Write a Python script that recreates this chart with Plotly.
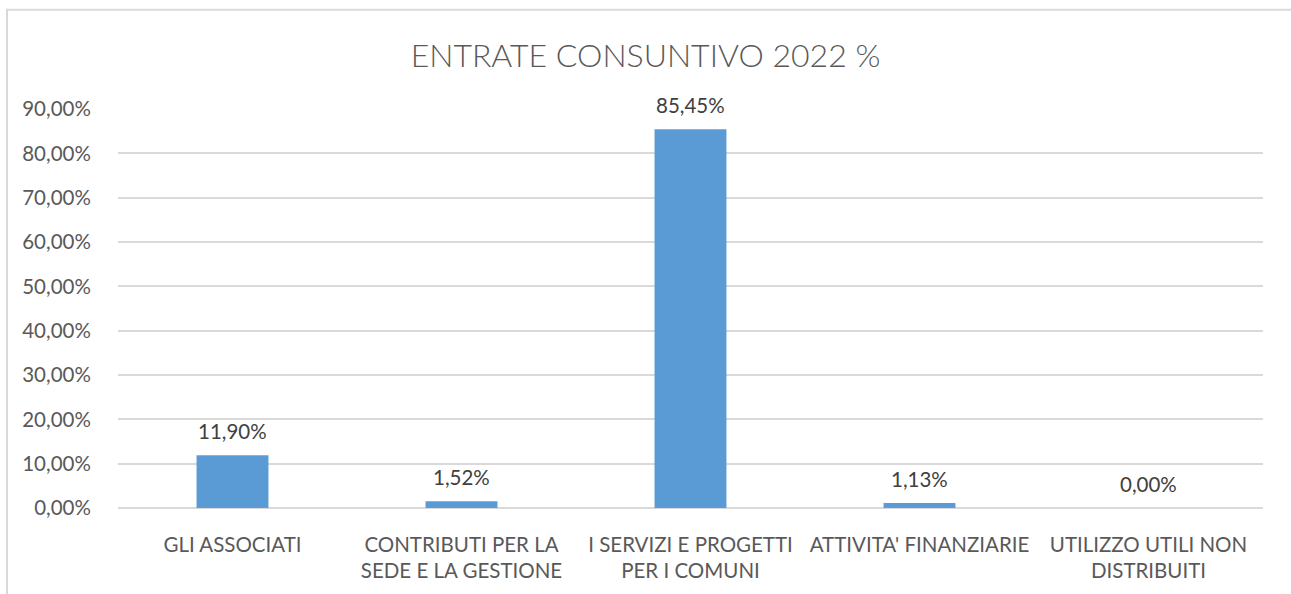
import plotly.graph_objects as go

categories = ["GLI ASSOCIATI", "CONTRIBUTI PER LA<br>SEDE E LA GESTIONE",
              "I SERVIZI E PROGETTI<br>PER I COMUNI", "ATTIVITA' FINANZIARIE",
              "UTILIZZO UTILI NON<br>DISTRIBUITI"]
values = [11.90, 1.52, 85.45, 1.13, 0.00]
title_text = "ENTRATE CONSUNTIVO 2022 %"

W, H = 1291, 594
L, R, T, B = 118, 28, 109, 83
FONT = "Lato, Open Sans, sans-serif"

fig = go.Figure(go.Bar(
    x=categories, y=values,
    marker=dict(color="#5B9BD5", line=dict(width=0)),
    hoverinfo="x+y",
))

for c, v in zip(categories, values):
    fig.add_annotation(x=c, y=v, xref="x", yref="y", text=f"{v:.2f}%".replace(".", ","),
                       showarrow=False, yanchor="bottom", yshift=10,
                       font=dict(family=FONT, size=20.5, color="#404040"))

pw, ph = W - L - R, H - T - B
fig.add_shape(type="rect", xref="paper", yref="paper",
              x0=(7 - L) / pw, x1=(W + 5 - L) / pw,
              y0=-(H + 5 - (H - B)) / ph, y1=(H - B - 9) / ph,
              line=dict(color="#D9D9D9", width=2), fillcolor="rgba(0,0,0,0)", layer="below")

fig.update_layout(
    width=W, height=H,
    margin=dict(l=L, r=R, t=T, b=B, pad=0),
    separators=",.",
    paper_bgcolor="white", plot_bgcolor="white",
    bargap=0.686,
    showlegend=False,
    title=dict(text=title_text, x=0.5, xanchor="center", y=1 - 56 / H, yanchor="middle",
               font=dict(family=FONT, size=32, color="#595959", weight=300)),
    font=dict(family=FONT, color="#595959"),
    xaxis=dict(tickfont=dict(family=FONT, size=20.5, color="#595959"), showgrid=False,
               showline=False, ticks="outside", ticklen=18, tickcolor="rgba(0,0,0,0)"),
    yaxis=dict(range=[0, 90], dtick=10, tickformat=".2f", ticksuffix="%",
               tickfont=dict(family=FONT, size=20.5, color="#595959"),
               showgrid=True, gridcolor="#D9D9D9", gridwidth=1.5,
               zeroline=True, zerolinecolor="#D9D9D9", zerolinewidth=1.5,
               showline=False, ticks="outside", ticklen=22, tickcolor="rgba(0,0,0,0)"),
)

fig.write_html("out.html", config={"displayModeBar": False},
               post_script="document.body.style.margin='0';document.body.style.overflow='hidden';")
